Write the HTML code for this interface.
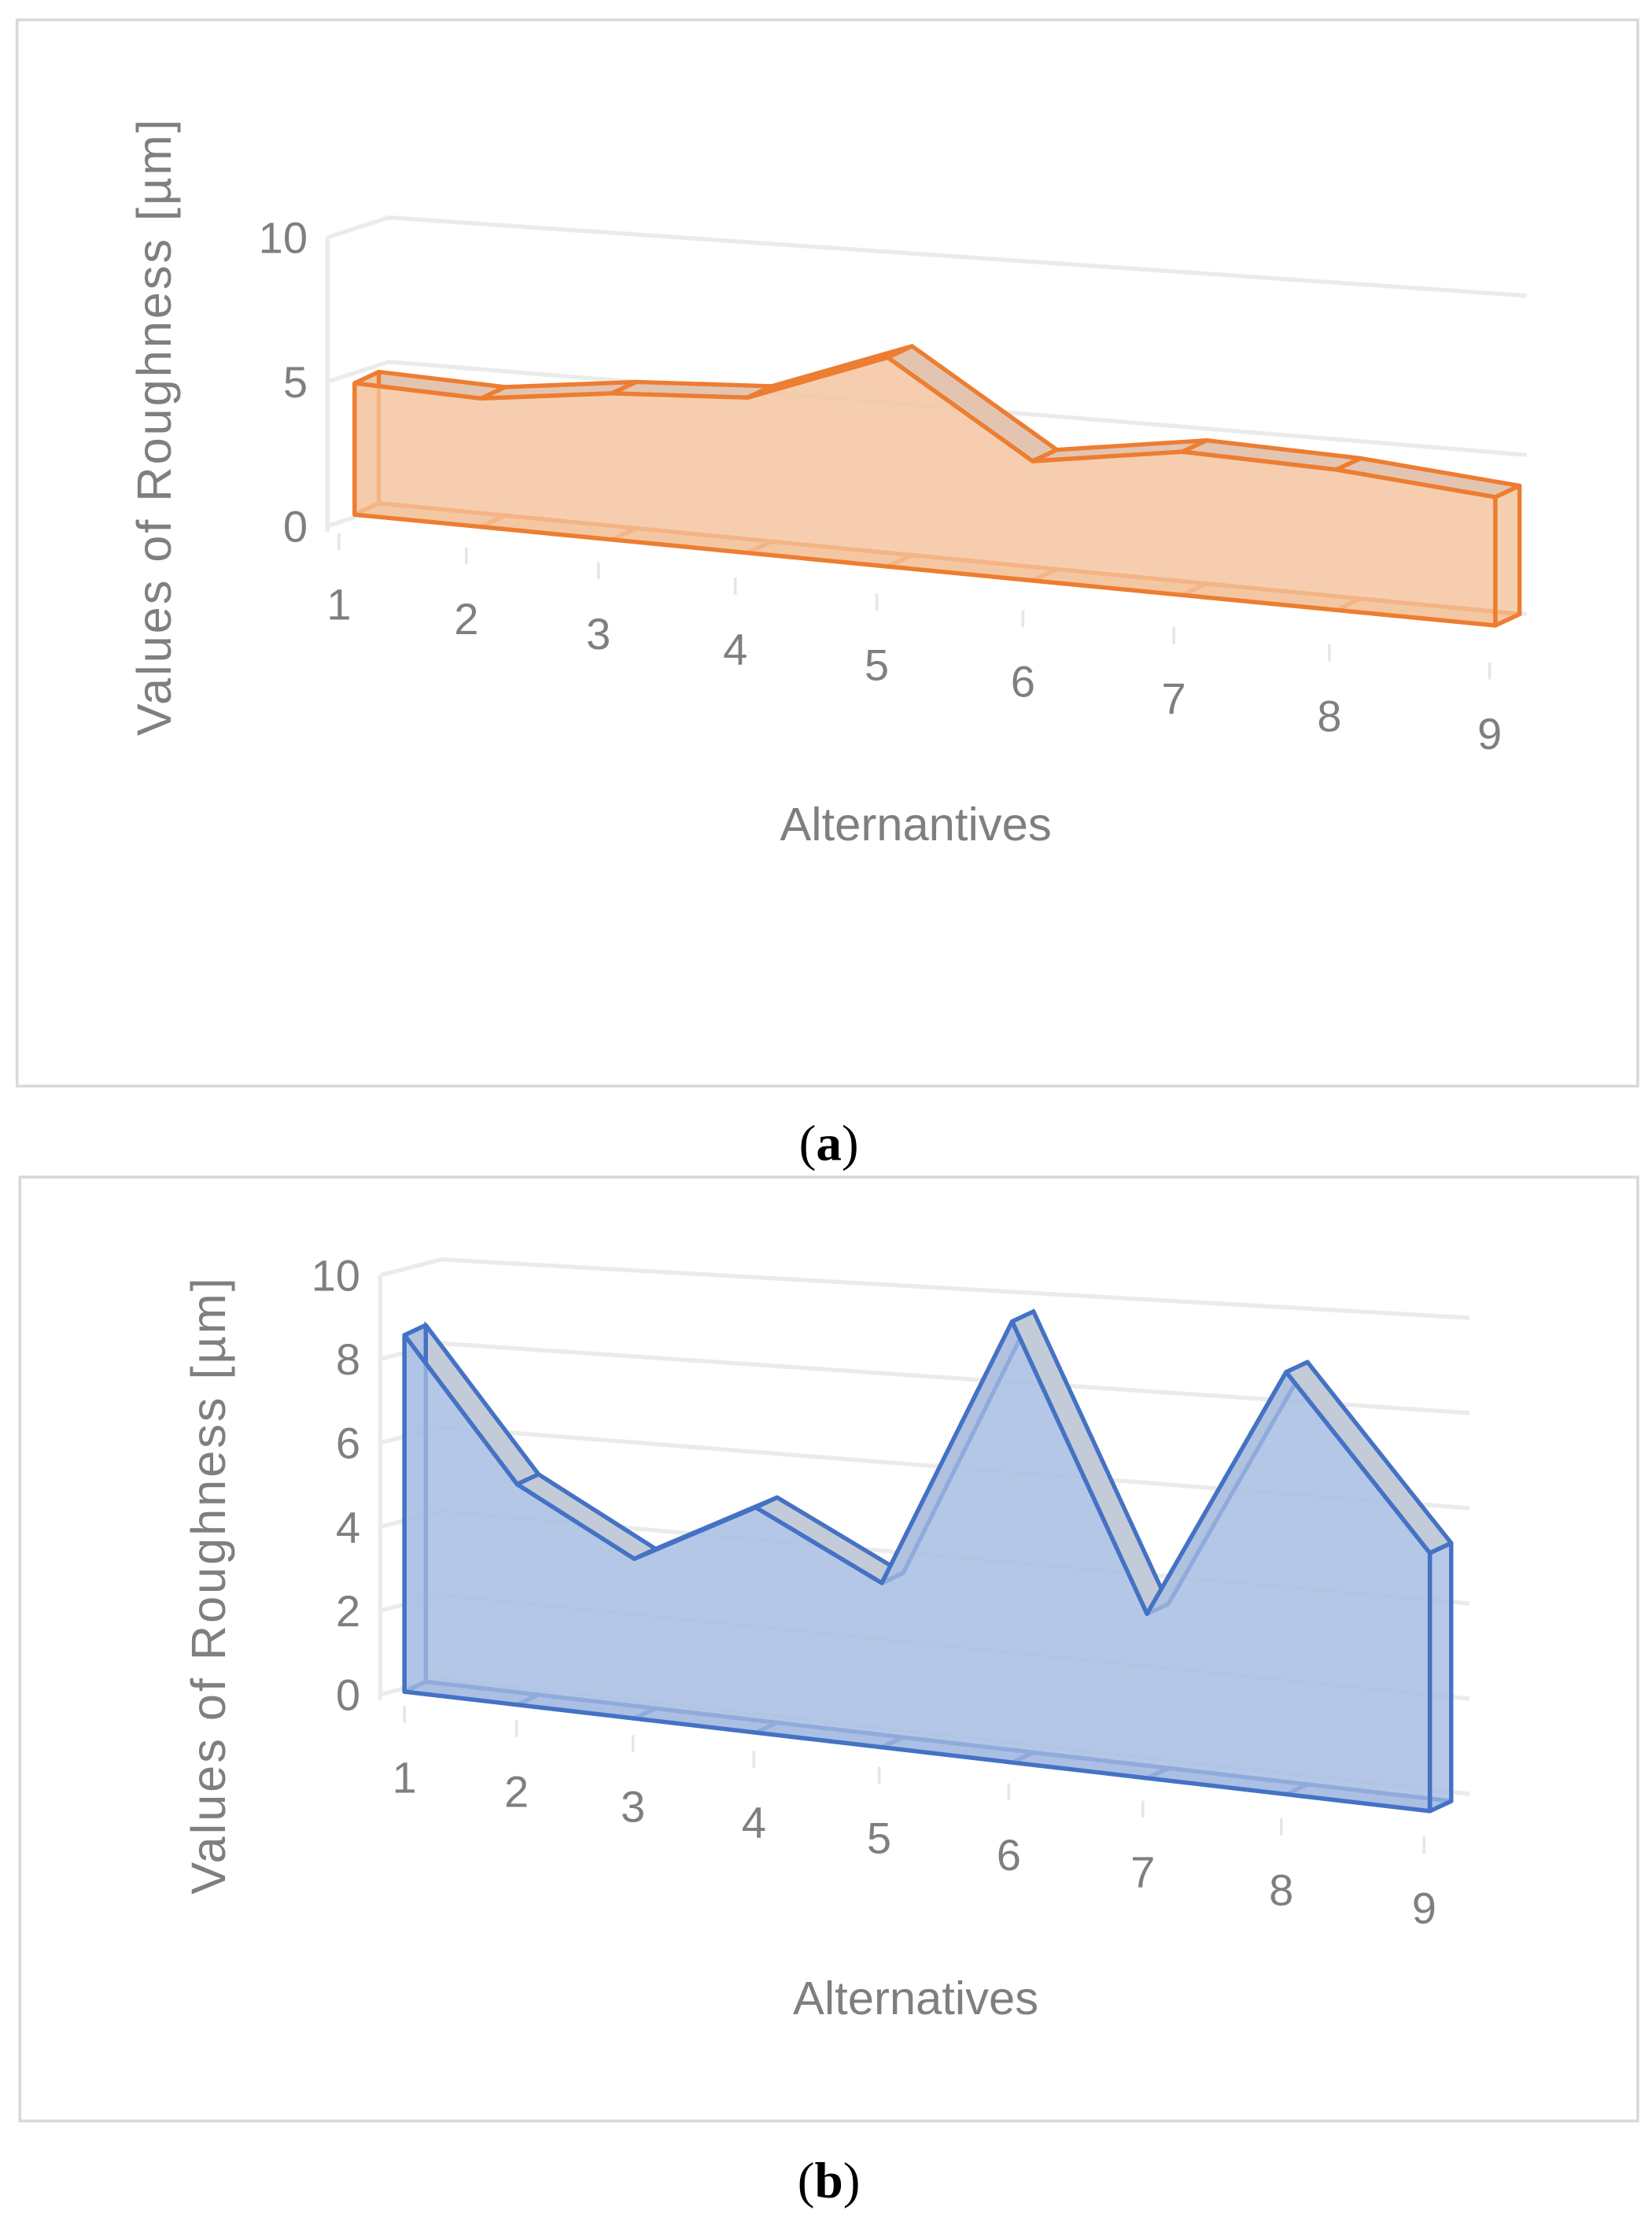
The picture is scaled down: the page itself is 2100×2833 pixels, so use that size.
<!DOCTYPE html>
<html><head><meta charset="utf-8"><style>
html,body{margin:0;padding:0;background:#fff;}
svg{display:block;}
</style></head><body>
<svg id="svg" width="2100" height="2833" viewBox="0 0 1160 1568" preserveAspectRatio="none" xmlns="http://www.w3.org/2000/svg">
<rect x="12" y="14" width="1138" height="750" fill="#fff" stroke="#d9d9d9" stroke-width="2"/>
<rect x="14" y="828" width="1136" height="664" fill="#fff" stroke="#d9d9d9" stroke-width="2"/>
<text x="582" y="816" text-anchor="middle" style="font-family:'Liberation Serif',serif;font-size:36px" fill="#000">(<tspan font-weight="bold">a</tspan>)</text>
<text x="582" y="1546" text-anchor="middle" style="font-family:'Liberation Serif',serif;font-size:36px" fill="#000">(<tspan font-weight="bold">b</tspan>)</text>
<g id="ga"></g><g id="gb"></g>
</svg>
<script>
const categories = ["1","2","3","4","5","6","7","8","9"];
const valuesA = [4.4, 4.3, 4.9, 5.2, 7.0, 4.0, 4.8, 4.7, 4.3];
const valuesB = [7.6, 4.7, 3.4, 4.8, 3.5, 9.4, 3.5, 9.0, 5.5];
const ticksA = [0, 5, 10];
const ticksB = [0, 2, 4, 6, 8, 10];

const NS = "http://www.w3.org/2000/svg";
function mk(parent, tag, attrs) {
  const e = document.createElementNS(NS, tag);
  for (const k in attrs) e.setAttribute(k, attrs[k]);
  parent.appendChild(e);
  return e;
}
function pts(a) { return a.map(p => p[0].toFixed(1) + "," + p[1].toFixed(1)).join(" "); }
const FONT = "font-family:'Liberation Sans',sans-serif;";

function drawChart(g, cfg, values, ticks) {
  const n = categories.length;
  const warp = i => { const t = i / (n - 1); return (t + cfg.a * t * t) / (1 + cfg.a); };
  const xF = i => cfg.x0 + (cfg.x1 - cfg.x0) * warp(i);
  const baseF = x => cfg.b0 + (cfg.b1 - cfg.b0) * (x - cfg.x0) / (cfg.x1 - cfg.x0);
  const yF = (i, v) => baseF(xF(i)) - v * cfg.k;
  ticks.forEach(t => {
    const yl = cfg.gl0 - t * cfg.gkl, yr = cfg.gr0 - t * cfg.gkr;
    const gl = mk(g, "polyline", {points: pts([[cfg.gx0, yl], [cfg.gx1, yl - cfg.gwall], [cfg.gx2, yr]]), fill: "none", stroke: "#ebebeb", "stroke-width": 3});
    
    
    const tl = mk(g, "text", {x: cfg.gx0 - 14, y: yl + 11, "text-anchor": "end", style: FONT + "font-size:31px", fill: "#7f7f7f"});
    tl.textContent = t;
    
    
  });
  const wall = mk(g, "line", {x1: cfg.gx0, y1: cfg.gl0 + 4, x2: cfg.gx0, y2: cfg.gl0 - ticks[ticks.length-1]*cfg.gkl, stroke: "#ebebeb", "stroke-width": 3});
  
  
  categories.forEach((c, i) => {
    const w = warp(i);
    const lx = cfg.lx0 + (cfg.lx1 - cfg.lx0) * w;
    const ly = cfg.ly0 + (cfg.ly1 - cfg.ly0) * w;
    const tk = mk(g, "line", {x1: lx, y1: ly - 50, x2: lx, y2: ly - 38, stroke: "#e6e6e6", "stroke-width": 2});
    
    
    const t = mk(g, "text", {x: lx, y: ly + 11, "text-anchor": "middle", style: FONT + "font-size:31px", fill: "#7f7f7f"});
    t.textContent = c;
    
    
  });
  const dx = cfg.dx, dy = cfg.dy;
  const front = values.map((v, i) => [xF(i), yF(i, v)]);
  const back = front.map(p => [p[0] + dx, p[1] + dy]);
  const fb = categories.map((c, i) => [xF(i), baseF(xF(i))]);
  const bb = fb.map(p => [p[0] + dx, p[1] + dy]);
  const st = {stroke: cfg.color, "stroke-width": 3, "stroke-linejoin": "round"};
  const bf = mk(g, "polygon", {points: pts(back.concat(bb.slice().reverse())), fill: cfg.fill, "fill-opacity": 0.5, stroke: cfg.color, "stroke-width": 2});
  
  
  for (let i = 0; i < values.length - 1; i++) {
    const q = mk(g, "polygon", Object.assign({points: pts([front[i], front[i+1], back[i+1], back[i]]), fill: cfg.strip}, st));
    
    
    const q2 = mk(g, "polygon", Object.assign({points: pts([fb[i], fb[i+1], bb[i+1], bb[i]]), fill: cfg.fill}, st));
    
    
  }
  const m = values.length - 1;
  [0, m].forEach(i => {
    const s = mk(g, "polygon", Object.assign({points: pts([front[i], back[i], bb[i], fb[i]]), fill: cfg.fill, "fill-opacity": 0.7}, st));
    
    
  });
  const ff = mk(g, "polygon", Object.assign({points: pts(front.concat(fb.slice().reverse())), fill: cfg.fill, "fill-opacity": 0.75}, st));
  
  
  const xt = mk(g, "text", {x: cfg.xtx, y: cfg.xty, "text-anchor": "middle", style: FONT + "font-size:33px", fill: "#7f7f7f"});
  xt.textContent = cfg.xtitle;
  
  
  const yt = mk(g, "text", {x: 0, y: 0, "text-anchor": "middle", style: FONT + "font-size:34px;letter-spacing:1.6px", fill: "#7f7f7f", transform: `translate(${cfg.ytx},${cfg.yty}) rotate(-90)`});
  yt.textContent = "Values of Roughness [µm]";
  
  
}

drawChart(document.getElementById("ga"), {
  x0: 249, x1: 1050, a: 0.15, b0: 362, b1: 440, k: 21, dx: 17, dy: -8,
  gx0: 230, gx1: 273, gx2: 1072, gwall: 14, gl0: 370, gkl: 20.3, gr0: 432, gkr: 22.4,
  lx0: 238, lx1: 1046, ly0: 425, ly1: 516,
  color: "#ed7d31", fill: "#f4c7a3", strip: "#e3c4b0",
  xtitle: "Alternantives", xtx: 643, xty: 591, ytx: 120, yty: 300
}, valuesA, ticksA);

drawChart(document.getElementById("gb"), {
  x0: 284, x1: 1004, a: 0.16, b0: 1190, b1: 1274, k: 33, dx: 15, dy: -7,
  gx0: 267, gx1: 310, gx2: 1032, gwall: 11, gl0: 1192, gkl: 29.5, gr0: 1262, gkr: 33.5,
  lx0: 284, lx1: 1000, ly0: 1250, ly1: 1342,
  color: "#4472c4", fill: "#aabfe3", strip: "#c3cbd8",
  xtitle: "Alternatives", xtx: 643, xty: 1417, ytx: 158, yty: 1115
}, valuesB, ticksB);
</script>
</body></html>
